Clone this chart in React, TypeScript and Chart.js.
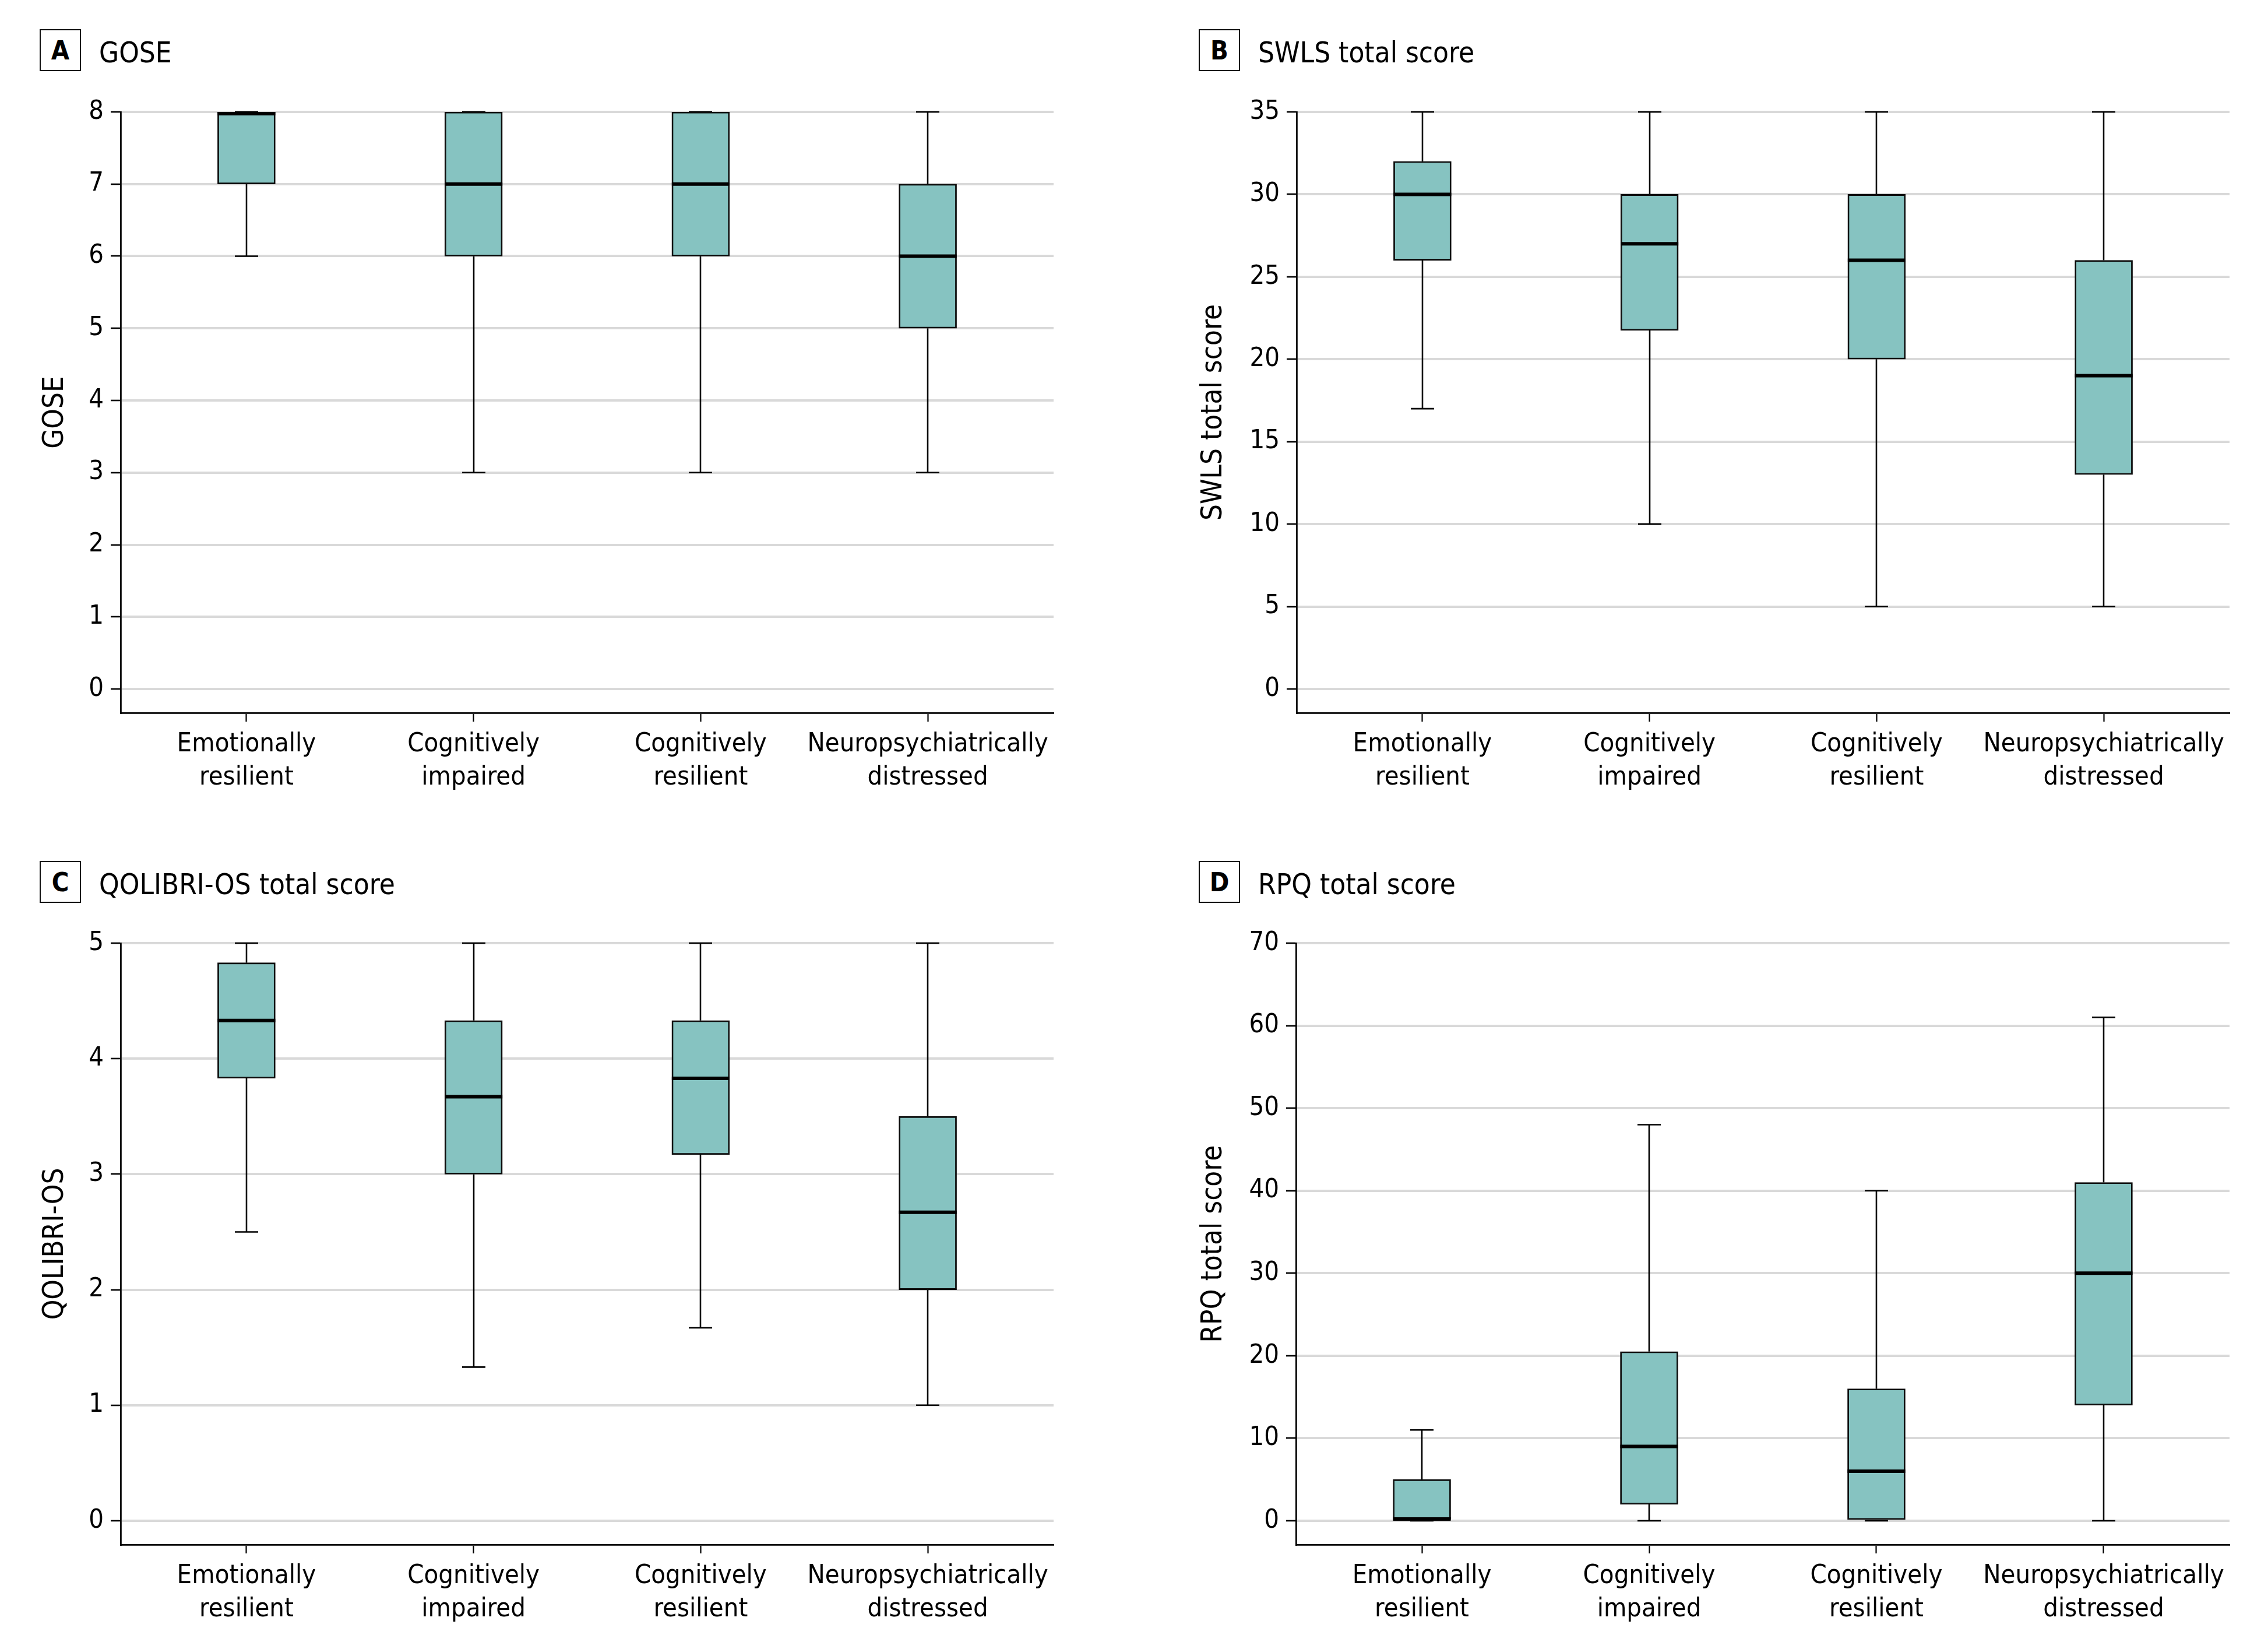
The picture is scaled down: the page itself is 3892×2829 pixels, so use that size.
import React, { useEffect, useRef } from "react";
import { Chart, registerables } from "chart.js";

Chart.register(...registerables);

// ---------- DATA ----------
const CATEGORIES: string[][] = [
  ["Emotionally", "resilient"],
  ["Cognitively", "impaired"],
  ["Cognitively", "resilient"],
  ["Neuropsychiatrically", "distressed"],
];

// A: GOSE
const GOSE_MIN = [6, 3, 3, 3];
const GOSE_Q1 = [7, 6, 6, 5];
const GOSE_MED = [8, 7, 7, 6];
const GOSE_Q3 = [8, 8, 8, 7];
const GOSE_MAX = [8, 8, 8, 8];
const GOSE_TICKS = [0, 1, 2, 3, 4, 5, 6, 7, 8];

// B: SWLS total score
const SWLS_MIN = [17, 10, 5, 5];
const SWLS_Q1 = [26, 21.75, 20, 13];
const SWLS_MED = [30, 27, 26, 19];
const SWLS_Q3 = [32, 30, 30, 26];
const SWLS_MAX = [35, 35, 35, 35];
const SWLS_TICKS = [0, 5, 10, 15, 20, 25, 30, 35];

// C: QOLIBRI-OS total score
const QOL_MIN = [2.5, 1.33, 1.67, 1.0];
const QOL_Q1 = [3.83, 3.0, 3.17, 2.0];
const QOL_MED = [4.33, 3.67, 3.83, 2.67];
const QOL_Q3 = [4.83, 4.33, 4.33, 3.5];
const QOL_MAX = [5, 5, 5, 5];
const QOL_TICKS = [0, 1, 2, 3, 4, 5];

// D: RPQ total score
const RPQ_MIN = [0, 0, 0, 0];
const RPQ_Q1 = [0, 2, 0, 14];
const RPQ_MED = [0, 9, 6, 30];
const RPQ_Q3 = [5, 20.5, 16, 41];
const RPQ_MAX = [11, 48, 40, 61];
const RPQ_TICKS = [0, 10, 20, 30, 40, 50, 60, 70];

// ---------- STYLE ----------
const FONT = "'DejaVu Sans Condensed', 'Liberation Sans', Arial, sans-serif";
const BOX_FILL = "#86c3c1";
const INK = "#0d0d0d";
const GRID = "#d9d9d9";
const BOX_WIDTH = 99;
const CAP_WIDTH = 40;
const PAD_TOP = 40;
const PAD_RIGHT = 20;
const X_AXIS_H = 170;
const BELOW_ZERO_FRAC = 41 / 990;
const X_MARGIN = 0.554;
const TITLE_SIZE = 49;

type PanelCfg = {
  letter: string;
  title: string;
  axisTitle: string;
  min: number[];
  q1: number[];
  med: number[];
  q3: number[];
  max: number[];
  ticks: number[];
  left: number;
  top: number;
  axisX: number;
  xAxisY: number;
  chartRight: number;
  titleCenterX: number;
  boxX: number;
  boxY: number;
};

const PANELS: PanelCfg[] = [
  {
    letter: "A", title: "GOSE", axisTitle: "GOSE",
    min: GOSE_MIN, q1: GOSE_Q1, med: GOSE_MED, q3: GOSE_Q3, max: GOSE_MAX, ticks: GOSE_TICKS,
    left: 0, top: 152, axisX: 207, xAxisY: 1223, chartRight: 1808, titleCenterX: 95,
    boxX: 68, boxY: 50,
  },
  {
    letter: "B", title: "SWLS total score", axisTitle: "SWLS total score",
    min: SWLS_MIN, q1: SWLS_Q1, med: SWLS_MED, q3: SWLS_Q3, max: SWLS_MAX, ticks: SWLS_TICKS,
    left: 1900, top: 152, axisX: 2225, xAxisY: 1223, chartRight: 3826, titleCenterX: 2083,
    boxX: 2057, boxY: 50,
  },
  {
    letter: "C", title: "QOLIBRI-OS total score", axisTitle: "QOLIBRI-OS",
    min: QOL_MIN, q1: QOL_Q1, med: QOL_MED, q3: QOL_Q3, max: QOL_MAX, ticks: QOL_TICKS,
    left: 0, top: 1578, axisX: 207, xAxisY: 2650, chartRight: 1808, titleCenterX: 95,
    boxX: 68, boxY: 1477,
  },
  {
    letter: "D", title: "RPQ total score", axisTitle: "RPQ total score",
    min: RPQ_MIN, q1: RPQ_Q1, med: RPQ_MED, q3: RPQ_Q3, max: RPQ_MAX, ticks: RPQ_TICKS,
    left: 1900, top: 1578, axisX: 2224, xAxisY: 2650, chartRight: 3826, titleCenterX: 2083,
    boxX: 2057, boxY: 1477,
  },
];

function makeBoxPlugin(cfg: PanelCfg) {
  const line = (ctx: CanvasRenderingContext2D, x1: number, y1: number, x2: number, y2: number) => {
    ctx.beginPath();
    ctx.moveTo(x1, y1);
    ctx.lineTo(x2, y2);
    ctx.stroke();
  };
  return {
    id: "boxExtras" + cfg.letter,
    beforeDatasetsDraw(chart: any) {
      const { ctx } = chart;
      const xs = chart.scales.x;
      const ys = chart.scales.y;
      ctx.save();
      ctx.strokeStyle = "#000";
      ctx.lineWidth = 2.6;
      ctx.lineCap = "butt";
      cfg.min.forEach((_, i) => {
        const px = Math.round(xs.getPixelForValue(i));
        const yMax = ys.getPixelForValue(cfg.max[i]);
        const yMin = ys.getPixelForValue(cfg.min[i]);
        const yQ3 = ys.getPixelForValue(cfg.q3[i]);
        const yQ1 = ys.getPixelForValue(cfg.q1[i]);
        line(ctx, px, yQ3, px, yMax);
        line(ctx, px, yQ1, px, yMin);
        line(ctx, px - CAP_WIDTH / 2, yMax, px + CAP_WIDTH / 2, yMax);
        line(ctx, px - CAP_WIDTH / 2, yMin, px + CAP_WIDTH / 2, yMin);
      });
      ctx.restore();
    },
    afterDatasetsDraw(chart: any) {
      const { ctx } = chart;
      const xs = chart.scales.x;
      const ys = chart.scales.y;
      ctx.save();
      ctx.strokeStyle = "#000";
      ctx.lineWidth = 6;
      cfg.med.forEach((m, i) => {
        const px = xs.getPixelForValue(i);
        const top = ys.getPixelForValue(cfg.q3[i]);
        const bot = ys.getPixelForValue(cfg.q1[i]);
        let py = ys.getPixelForValue(m);
        py = Math.min(Math.max(py, top + 3), bot - 3);
        line(ctx, px - BOX_WIDTH / 2, py, px + BOX_WIDTH / 2, py);
      });
      ctx.restore();
    },
  };
}

function Panel({ cfg }: { cfg: PanelCfg }) {
  const ref = useRef<HTMLCanvasElement>(null);
  const W = cfg.chartRight + PAD_RIGHT - cfg.left;
  const H = cfg.xAxisY - cfg.top + X_AXIS_H;

  useEffect(() => {
    const canvas = ref.current;
    if (!canvas) return;
    const yTop = cfg.ticks[cfg.ticks.length - 1];
    const yBottom = -yTop * BELOW_ZERO_FRAC;
    const chart = new Chart(canvas, {
      type: "bar",
      data: {
        datasets: [
          {
            data: CATEGORIES.map((_, i) => ({ x: i, y: [cfg.q1[i], cfg.q3[i]] })) as any,
            backgroundColor: BOX_FILL,
            borderColor: INK,
            borderWidth: 2.8,
            borderSkipped: false,
            barThickness: BOX_WIDTH,
            grouped: false,
          } as any,
        ],
      },
      options: {
        animation: false,
        responsive: false,
        maintainAspectRatio: false,
        devicePixelRatio: 1,
        layout: { padding: { top: PAD_TOP, right: PAD_RIGHT, bottom: 0, left: 0 } },
        plugins: {
          legend: { display: false },
          tooltip: { enabled: false },
          title: { display: false },
        },
        scales: {
          x: {
            type: "linear",
            offset: false,
            min: -X_MARGIN,
            max: CATEGORIES.length - 1 + X_MARGIN,
            afterBuildTicks: (s: any) => {
              s.ticks = CATEGORIES.map((_, i) => ({ value: i }));
            },
            afterFit: (s: any) => {
              s.height = X_AXIS_H;
            },
            ticks: {
              autoSkip: false,
              maxRotation: 0,
              minRotation: 0,
              padding: 11,
              color: "#000",
              font: { family: FONT, size: 45, lineHeight: 1.27 },
              callback: (v: any) => CATEGORIES[Math.round(Number(v))] ?? "",
            },
            grid: {
              display: true,
              offset: false,
              drawOnChartArea: false,
              drawTicks: true,
              tickLength: 15,
              tickColor: "#000",
              tickWidth: 2.2,
              color: "#000",
            },
            border: { display: true, color: "#000", width: 2.8 },
          },
          y: {
            type: "linear",
            min: yBottom,
            max: yTop,
            afterBuildTicks: (s: any) => {
              s.ticks = cfg.ticks.map((v) => ({ value: v }));
            },
            afterFit: (s: any) => {
              s.width = cfg.axisX - cfg.left;
            },
            ticks: {
              padding: 12,
              color: "#000",
              font: { family: FONT, size: 45 },
              callback: (v: any) => String(v),
            },
            grid: {
              display: true,
              drawOnChartArea: true,
              drawTicks: true,
              tickLength: 17,
              tickColor: "#000",
              tickWidth: 2.6,
              color: GRID,
              lineWidth: 4,
            },
            border: { display: true, color: "#000", width: 2.8 },
            title: {
              display: true,
              text: cfg.axisTitle,
              color: "#000",
              font: { family: FONT, size: TITLE_SIZE, lineHeight: 1.2 },
              padding: { top: cfg.titleCenterX - cfg.left - (TITLE_SIZE * 1.2) / 2, bottom: 0 },
            },
          },
        },
      },
      plugins: [makeBoxPlugin(cfg)],
    } as any);
    return () => chart.destroy();
  }, []);

  return (
    <>
      <canvas
        ref={ref}
        width={W}
        height={H}
        style={{ position: "absolute", left: cfg.left, top: cfg.top, width: W, height: H }}
      />
      <div
        style={{
          position: "absolute",
          left: cfg.boxX,
          top: cfg.boxY,
          width: 71,
          height: 72,
          boxSizing: "border-box",
          border: "2px solid #111",
          display: "flex",
          alignItems: "center",
          justifyContent: "center",
          fontFamily: FONT,
          fontWeight: 700,
          fontSize: 45,
          color: "#000",
        }}
      >
        {cfg.letter}
      </div>
      <div
        style={{
          position: "absolute",
          left: cfg.boxX + 102,
          top: cfg.boxY + 16,
          fontFamily: FONT,
          fontSize: TITLE_SIZE,
          lineHeight: TITLE_SIZE + "px",
          color: "#000",
          whiteSpace: "nowrap",
        }}
      >
        {cfg.title}
      </div>
    </>
  );
}

export default function App() {
  return (
    <div
      style={{
        position: "absolute",
        left: 0,
        top: 0,
        width: 3892,
        height: 2829,
        background: "#fff",
        overflow: "hidden",
      }}
    >
      {PANELS.map((p) => (
        <Panel key={p.letter} cfg={p} />
      ))}
    </div>
  );
}
